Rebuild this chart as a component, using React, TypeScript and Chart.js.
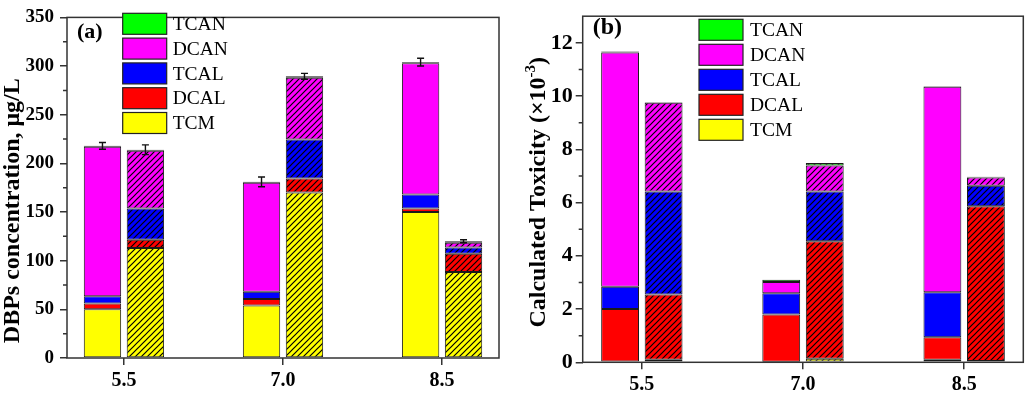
import React, { useEffect, useRef } from 'react';
import { Chart, registerables } from 'chart.js';
Chart.register(...registerables);

// ---------- data ----------
const categories = ['5.5', '7.0', '8.5'];
const components = ['TCM', 'DCAL', 'TCAL', 'DCAN', 'TCAN'];
const colors = ['#FFFF00', '#FF0000', '#0000FF', '#FF00FF', '#00FF00'];

// Panel (a): DBPs concentration (µg/L) — solid bars
const concTCM_solid = [50, 54, 150];
const concDCAL_solid = [6, 6.5, 3.5];
const concTCAL_solid = [7.5, 7.5, 14.5];
const concDCAN_solid = [153.5, 112, 135];
const concTCAN_solid = [1, 1, 1];
// Panel (a): hatched bars
const concTCM_hatched = [113, 170, 88.5];
const concDCAL_hatched = [8.5, 14.5, 18.5];
const concTCAL_hatched = [32, 40, 6.5];
const concDCAN_hatched = [59.5, 63.5, 5];
const concTCAN_hatched = [1, 1.5, 1.5];
// Panel (a): error bars
const concErr_solid = [3.5, 5, 4];
const concErr_hatched = [5, 3, 1.5];

// Panel (b): Calculated toxicity (×10^-3) — solid bars
const toxTCM_solid = [0.03, 0.02, 0.1];
const toxDCAL_solid = [1.97, 1.78, 0.84];
const toxTCAL_solid = [0.84, 0.79, 1.69];
const toxDCAN_solid = [8.8, 0.43, 7.72];
const toxTCAN_solid = [0.03, 0.08, 0.02];
// Panel (b): hatched bars
const toxTCM_hatched = [0.1, 0.13, 0.05];
const toxDCAL_hatched = [2.45, 4.42, 5.81];
const toxTCAL_hatched = [3.87, 1.87, 0.77];
const toxDCAN_hatched = [3.33, 0.97, 0.31];
const toxTCAN_hatched = [0.02, 0.1, 0.03];

// tick values
const concTicks = [0, 50, 100, 150, 200, 250, 300, 350];
const concMinorTicks = [25, 75, 125, 175, 225, 275, 325];
const toxTicks = [0, 2, 4, 6, 8, 10, 12];
const toxMinorTicks = [1, 3, 5, 7, 9, 11];

const FONT = "'Liberation Serif', 'Times New Roman', serif";

function makeHatch(color: string) {
  const size = 6;
  const c = document.createElement('canvas');
  c.width = size;
  c.height = size;
  const g = c.getContext('2d')!;
  g.fillStyle = color;
  g.fillRect(0, 0, size, size);
  g.strokeStyle = '#000';
  g.lineWidth = 1.2;
  g.beginPath();
  g.moveTo(0, size);
  g.lineTo(size, 0);
  g.moveTo(-1, 1);
  g.lineTo(1, -1);
  g.moveTo(size - 1, size + 1);
  g.lineTo(size + 1, size - 1);
  g.stroke();
  return g.createPattern(c, 'repeat')!;
}

type PanelCfg = {
  width: number;
  height: number;
  area: { left: number; top: number; right: number; bottom: number };
  xMin: number;
  xMax: number;
  yMax: number;
  yTicks: number[];
  yMinor: number[];
  solid: number[][];
  hatched: number[][];
  errSolid?: number[];
  errHatched?: number[];
  title: [string, string, string];
  titleX: number;
  titleSize: number;
  label: string;
  labelX: number;
  labelY: number;
  labelSize: number;
  legend: { x: number; y: number; pitch: number; boxW: number; boxH: number; gap: number; size: number };
  yTickSize: number;
  xTickSize: number;
  yTickPad: number;
  xTickPad: number;
};

const panelA: PanelCfg = {
  width: 505,
  height: 395,
  area: { left: 67, top: 10, right: 499, bottom: 358 },
  xMin: -0.358,
  xMax: 2.358,
  yMax: 350,
  yTicks: concTicks,
  yMinor: concMinorTicks,
  solid: [concTCM_solid, concDCAL_solid, concTCAL_solid, concDCAN_solid, concTCAN_solid],
  hatched: [concTCM_hatched, concDCAL_hatched, concTCAL_hatched, concDCAN_hatched, concTCAN_hatched],
  errSolid: concErr_solid,
  errHatched: concErr_hatched,
  title: ['DBPs concentration, μg/L', '', ''],
  titleX: 11,
  titleSize: 24,
  label: '(a)',
  labelX: 77,
  labelY: 32,
  labelSize: 22,
  legend: { x: 122.7, y: 13.3, pitch: 24.8, boxW: 44, boxH: 21, gap: 6, size: 19.5 },
  yTickSize: 19,
  xTickSize: 20,
  yTickPad: 6,
  xTickPad: 4,
};

const panelB: PanelCfg = {
  width: 523,
  height: 395,
  area: { left: 77.7, top: 7.3, right: 518.3, bottom: 362.3 },
  xMin: -0.367,
  xMax: 2.367,
  yMax: 13,
  yTicks: toxTicks,
  yMinor: toxMinorTicks,
  solid: [toxTCM_solid, toxDCAL_solid, toxTCAL_solid, toxDCAN_solid, toxTCAN_solid],
  hatched: [toxTCM_hatched, toxDCAL_hatched, toxTCAL_hatched, toxDCAN_hatched, toxTCAN_hatched],
  title: ['Calculated Toxicity (×10', '-3', ')'],
  titleX: 32,
  titleSize: 24,
  label: '(b)',
  labelX: 87.7,
  labelY: 28,
  labelSize: 24,
  legend: { x: 194, y: 19.3, pitch: 25, boxW: 44, boxH: 21, gap: 7, size: 19.5 },
  yTickSize: 22,
  xTickSize: 20,
  yTickPad: 3,
  xTickPad: 4,
};

function Panel({ cfg, left }: { cfg: PanelCfg; left: number }) {
  const ref = useRef<HTMLCanvasElement>(null);
  useEffect(() => {
    const canvas = ref.current!;
    const datasets: any[] = [];
    (['s', 'h'] as const).forEach((stack) => {
      const series = stack === 's' ? cfg.solid : cfg.hatched;
      components.forEach((name, k) => {
        datasets.push({
          label: name,
          data: categories.map((_, i) => ({ x: i, y: series[k][i] })),
          backgroundColor: stack === 's' ? colors[k] : makeHatch(colors[k]),
          borderColor: '#1a1a1a',
          borderWidth: 1,
          borderSkipped: false,
          stack,
          categoryPercentage: 0.54,
          barPercentage: 0.87,
        });
      });
    });

    const overlay = {
      id: 'overlay',
      afterDatasetsDraw(chart: any) {
        const ctx = chart.ctx;
        const ys = chart.scales.y;
        // error bars
        if (cfg.errSolid && cfg.errHatched) {
          ctx.save();
          ctx.strokeStyle = '#111';
          ctx.lineWidth = 1.4;
          [
            { idx: 4, series: cfg.solid, err: cfg.errSolid },
            { idx: 9, series: cfg.hatched, err: cfg.errHatched },
          ].forEach(({ idx, series, err }) => {
            const meta = chart.getDatasetMeta(idx);
            categories.forEach((_, i) => {
              const total = series.reduce((s, arr) => s + arr[i], 0);
              const x = meta.data[i].x;
              const yt = ys.getPixelForValue(total + err[i]);
              const yb = ys.getPixelForValue(total - err[i]);
              ctx.beginPath();
              ctx.moveTo(x, yt);
              ctx.lineTo(x, yb);
              ctx.moveTo(x - 3.5, yt);
              ctx.lineTo(x + 3.5, yt);
              ctx.moveTo(x - 3.5, yb);
              ctx.lineTo(x + 3.5, yb);
              ctx.stroke();
            });
          });
          ctx.restore();
        }
      },
      afterDraw(chart: any) {
        const ctx = chart.ctx;
        const a = chart.chartArea;
        const ys = chart.scales.y;
        ctx.save();
        // frame
        ctx.strokeStyle = '#333';
        ctx.lineWidth = 1.5;
        ctx.strokeRect(a.left, a.top, a.right - a.left, a.bottom - a.top);
        // minor ticks
        ctx.beginPath();
        cfg.yMinor.forEach((v) => {
          const y = ys.getPixelForValue(v);
          ctx.moveTo(a.left - 4, y);
          ctx.lineTo(a.left, y);
        });
        ctx.stroke();
        // y title
        const fs = cfg.titleSize;
        const cy = (a.top + a.bottom) / 2 + (cfg.label === '(a)' ? 23 : 3);
        ctx.translate(cfg.titleX, cy);
        ctx.rotate(-Math.PI / 2);
        ctx.fillStyle = '#000';
        ctx.textBaseline = 'alphabetic';
        ctx.textAlign = 'left';
        const mainFont = `bold ${fs}px ${FONT}`;
        const supFont = `bold ${Math.round(fs * 0.62)}px ${FONT}`;
        ctx.font = mainFont;
        const w1 = ctx.measureText(cfg.title[0]).width;
        const w3 = ctx.measureText(cfg.title[2]).width;
        ctx.font = supFont;
        const w2 = ctx.measureText(cfg.title[1]).width;
        const total = w1 + w2 + w3;
        const base = fs * 0.33;
        let x0 = -total / 2;
        ctx.font = mainFont;
        ctx.fillText(cfg.title[0], x0, base);
        x0 += w1;
        ctx.font = supFont;
        ctx.fillText(cfg.title[1], x0, base - fs * 0.42);
        x0 += w2;
        ctx.font = mainFont;
        ctx.fillText(cfg.title[2], x0, base);
        ctx.setTransform(1, 0, 0, 1, 0, 0);
        // panel label
        ctx.font = `bold ${cfg.labelSize}px ${FONT}`;
        ctx.textBaseline = 'middle';
        ctx.textAlign = 'left';
        ctx.fillText(cfg.label, cfg.labelX, cfg.labelY);
        // legend (reverse order: TCAN on top)
        const L = cfg.legend;
        ctx.font = `${L.size}px ${FONT}`;
        const order = components.map((_, k) => k).reverse();
        order.forEach((k, row) => {
          const y = L.y + row * L.pitch;
          ctx.fillStyle = colors[k];
          ctx.fillRect(L.x, y, L.boxW, L.boxH);
          ctx.strokeStyle = '#222';
          ctx.lineWidth = 1.2;
          ctx.strokeRect(L.x, y, L.boxW, L.boxH);
          ctx.fillStyle = '#000';
          ctx.fillText(components[k], L.x + L.boxW + L.gap, y + L.boxH / 2 + 1);
        });
        ctx.restore();
      },
    };

    const gridOpts = {
      drawOnChartArea: false,
      drawTicks: true,
      tickLength: 7,
      color: '#333',
      lineWidth: 1.5,
      offset: false,
    };

    const chart = new Chart(canvas, {
      type: 'bar',
      data: { datasets },
      options: {
        responsive: false,
        animation: false,
        layout: {
          padding: { left: 0, top: cfg.area.top, right: cfg.width - cfg.area.right, bottom: 0 },
        },
        plugins: { legend: { display: false }, tooltip: { enabled: false } },
        scales: {
          x: {
            type: 'linear',
            bounds: 'data',
            min: cfg.xMin,
            max: cfg.xMax,
            offset: false,
            grid: gridOpts,
            border: { display: false },
            ticks: {
              font: { family: FONT, size: cfg.xTickSize, weight: 'bold' },
              color: '#000',
              padding: cfg.xTickPad,
              maxRotation: 0,
              autoSkip: false,
              callback: (v: any) => categories[v] ?? '',
            },
            afterBuildTicks: (s: any) => {
              s.ticks = categories.map((_, i) => ({ value: i }));
            },
            afterFit: (s: any) => {
              s.height = cfg.height - cfg.area.bottom;
            },
          },
          y: {
            type: 'linear',
            bounds: 'data',
            stacked: true,
            min: 0,
            max: cfg.yMax,
            grid: gridOpts,
            border: { display: false },
            ticks: {
              font: { family: FONT, size: cfg.yTickSize, weight: 'bold' },
              color: '#000',
              padding: cfg.yTickPad,
            },
            afterBuildTicks: (s: any) => {
              s.ticks = cfg.yTicks.map((v) => ({ value: v }));
            },
            afterFit: (s: any) => {
              s.width = cfg.area.left;
            },
          },
        },
      } as any,
      plugins: [overlay],
    });
    return () => chart.destroy();
  }, [cfg]);

  return (
    <canvas
      ref={ref}
      width={cfg.width}
      height={cfg.height}
      style={{ position: 'absolute', left, top: 0, width: cfg.width, height: cfg.height }}
    />
  );
}

export default function App() {
  return (
    <div style={{ position: 'absolute', left: 0, top: 0, width: 1028, height: 395, background: '#fff', overflow: 'hidden' }}>
      <Panel cfg={panelA} left={0} />
      <Panel cfg={panelB} left={505} />
    </div>
  );
}
